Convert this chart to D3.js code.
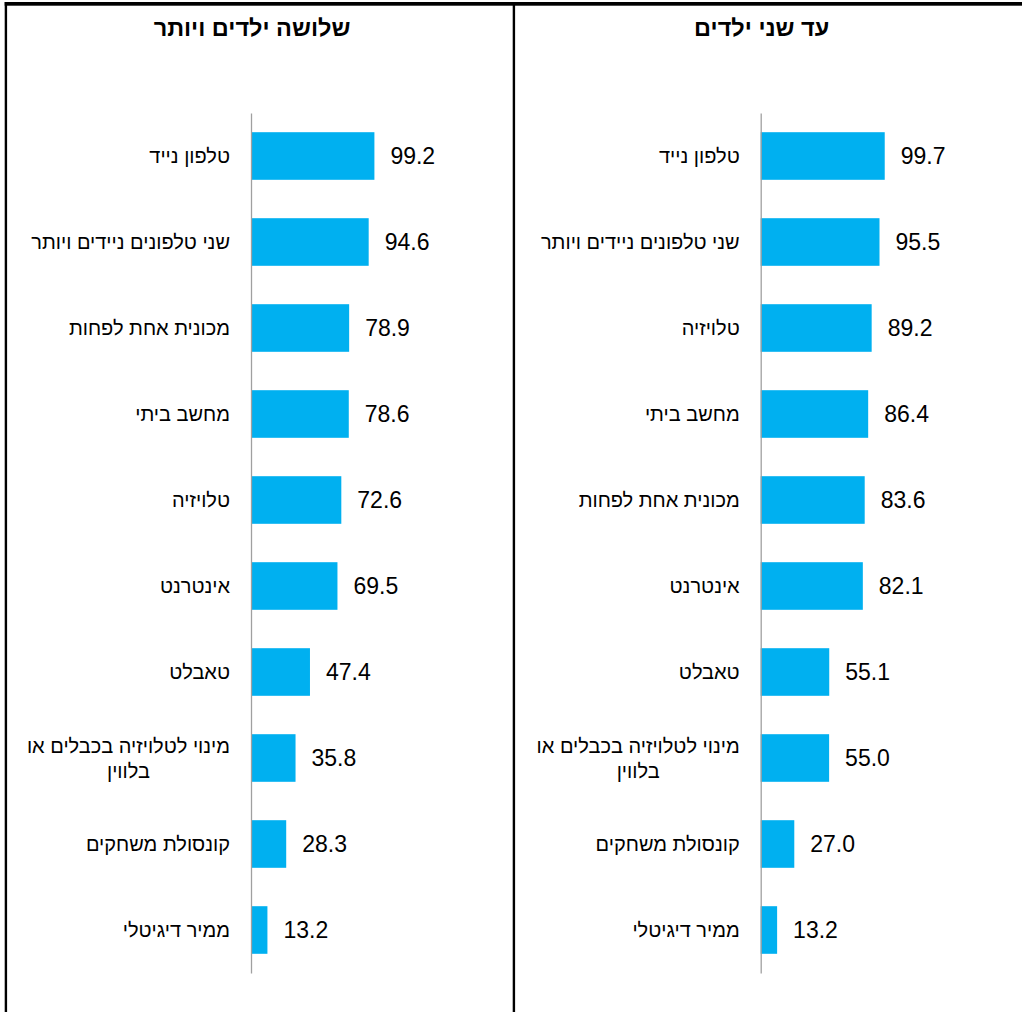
<!DOCTYPE html>
<html>
<head>
<meta charset="utf-8">
<script src="https://cdn.jsdelivr.net/npm/d3@7"></script>
<style>
  html, body { margin: 0; padding: 0; background: #fff; }
  svg { display: block; }
</style>
</head>
<body>
<script>
// ---- data ----
const leftTitle = "שלושה ילדים ויותר";
const leftCategories = ["טלפון נייד", "שני טלפונים ניידים ויותר", "מכונית אחת לפחות", "מחשב ביתי", "טלויזיה", "אינטרנט", "טאבלט", "מינוי לטלויזיה בכבלים או|בלווין", "קונסולת משחקים", "ממיר דיגיטלי"];
const leftValues = [99.2, 94.6, 78.9, 78.6, 72.6, 69.5, 47.4, 35.8, 28.3, 13.2];

const rightTitle = "עד שני ילדים";
const rightCategories = ["טלפון נייד", "שני טלפונים ניידים ויותר", "טלויזיה", "מחשב ביתי", "מכונית אחת לפחות", "אינטרנט", "טאבלט", "מינוי לטלויזיה בכבלים או|בלווין", "קונסולת משחקים", "ממיר דיגיטלי"];
const rightValues = [99.7, 95.5, 89.2, 86.4, 83.6, 82.1, 55.1, 55.0, 27.0, 13.2];

// ---- layout ----
const W = 1022, H = 1012;
const barColor = "#00B0F0";
const labelFont = "'Liberation Sans', Arial, sans-serif";

const svg = d3.select("body").append("svg").attr("width", W).attr("height", H);

// frame lines
svg.append("rect").attr("x", 4.7).attr("y", 2).attr("width", W - 4.7).attr("height", 3.7).attr("fill", "#000");
svg.append("rect").attr("x", 4.7).attr("y", 2).attr("width", 2.4).attr("height", H).attr("fill", "#000");
svg.append("rect").attr("x", 512.7).attr("y", 2).attr("width", 2.4).attr("height", H).attr("fill", "#000");

function panel(axisX, title, cats, vals) {
  const g = svg.append("g");
  const data = cats.map((c, i) => ({ c, v: vals[i] }));
  const x = d3.scaleLinear().domain([0, 100]).range([axisX, axisX + 124.4]);
  const y = d3.scaleBand().domain(cats).range([113, 973]).paddingInner(0.4465).paddingOuter(0.22325);

  // title
  g.append("text")
    .attr("x", axisX + 1)
    .attr("y", 28)
    .attr("dy", "0.35em")
    .attr("text-anchor", "middle")
    .attr("font-family", labelFont)
    .attr("font-weight", "bold")
    .attr("font-size", 23.5)
    .attr("fill", "#000")
    .text(title);

  // bars
  g.selectAll("rect.bar").data(data).join("rect")
    .attr("class", "bar")
    .attr("x", x(0))
    .attr("y", d => y(d.c))
    .attr("width", d => x(d.v) - x(0))
    .attr("height", y.bandwidth())
    .attr("fill", barColor);

  // axis (vertical line, no ticks)
  const axis = g.append("g")
    .attr("transform", `translate(${x(0)},0)`)
    .call(d3.axisLeft(y).tickSize(0).tickSizeOuter(0).tickFormat(""));
  axis.select(".domain").attr("stroke", "#A0A0A0").attr("stroke-width", 1.3);
  axis.selectAll(".tick").remove();

  // value labels
  g.selectAll("text.val").data(data).join("text")
    .attr("class", "val")
    .attr("x", d => x(d.v) + 16)
    .attr("y", d => y(d.c) + y.bandwidth() / 2)
    .attr("dy", "0.36em")
    .attr("font-family", labelFont)
    .attr("font-size", 23)
    .attr("fill", "#000")
    .text(d => d.v.toFixed(1));

  // category labels
  const labelRight = x(0) - 21;
  data.forEach(d => {
    const lines = d.c.split("|");
    const cy = y(d.c) + y.bandwidth() / 2;
    const lh = 25;
    const t = g.append("text")
      .attr("font-family", labelFont)
      .attr("font-size", 20)
      .attr("fill", "#000");
    const spans = lines.map((ln, i) => t.append("tspan")
      .attr("y", cy + (i - (lines.length - 1) / 2) * lh)
      .attr("dy", "0.35em")
      .text(ln));
    const widths = spans.map(s => s.node().getComputedTextLength());
    const maxW = d3.max(widths);
    const cx = labelRight - maxW / 2;
    spans.forEach(s => s.attr("x", cx).attr("text-anchor", "middle"));
  });
}

panel(251, leftTitle, leftCategories, leftValues);
panel(760.7, rightTitle, rightCategories, rightValues);
</script>
</body>
</html>
